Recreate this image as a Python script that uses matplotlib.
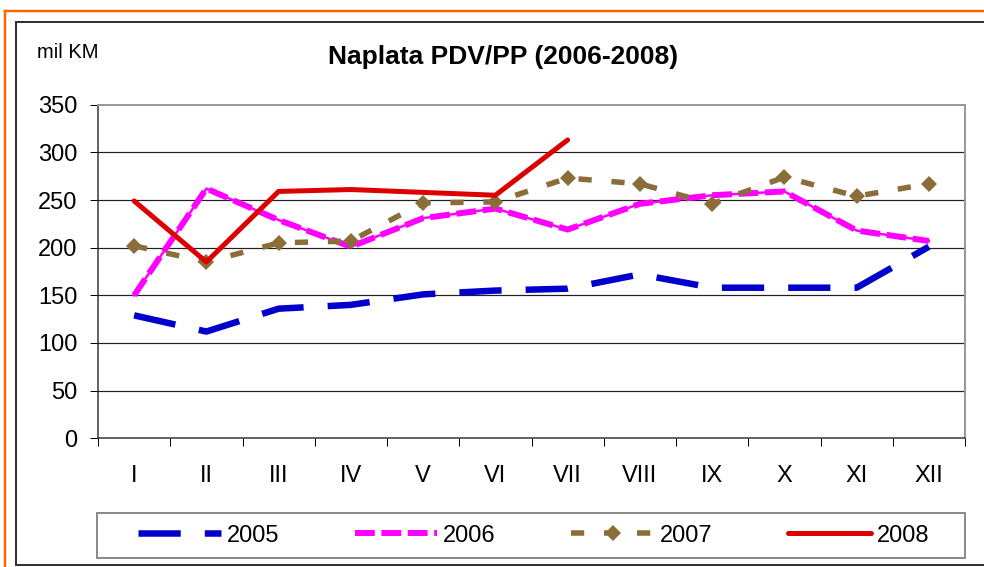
import matplotlib
matplotlib.use("Agg")
import matplotlib.pyplot as plt
from matplotlib.lines import Line2D
from matplotlib.patches import Rectangle

plt.rcParams["font.family"] = ["Liberation Sans", "DejaVu Sans"]

months = ["I", "II", "III", "IV", "V", "VI", "VII", "VIII", "IX", "X", "XI", "XII"]
y2005 = [129, 112, 136, 140, 151, 155, 157, 172, 158, 158, 158, 201]
y2006 = [150, 262, 229, 201, 231, 241, 219, 246, 255, 259, 218, 207]
y2007 = [202, 185, 205, 207, 247, 248, 273, 267, 246, 274, 254, 267]
y2008 = [249, 185, 259, 261, 258, 255, 313]
yticks = [0, 50, 100, 150, 200, 250, 300, 350]

W, H = 984, 567
PX = 72 / 100  # points per pixel

fig = plt.figure(figsize=(W / 100, H / 100), dpi=100, facecolor="white")


def fx(px):
    return px / W


def fy(py):
    return 1 - py / H


ax = fig.add_axes([fx(98), fy(438.3), fx(965) - fx(98), fy(104.7) - fy(438.3)])

x = list(range(len(months)))

l05, = ax.plot(x, y2005, color="#0000CC", lw=6.5 * PX, dashes=(6.5, 3.7),
               solid_capstyle="butt", dash_capstyle="butt", zorder=3)
ax.plot(x, y2006, color="#FF00FF", lw=2.5 * PX, zorder=3)
l06, = ax.plot(x, y2006, color="#FF00FF", lw=6 * PX, dashes=(3.3, 1.1),
               dash_capstyle="butt", zorder=3)
l07, = ax.plot(x, y2007, color="#8B6D3A", lw=5.5 * PX, dashes=(2.4, 3.6),
               dash_capstyle="butt", marker="D", markersize=8.5,
               markeredgewidth=0, zorder=4)
l08, = ax.plot(x[:len(y2008)], y2008, color="#DD0000", lw=5 * PX,
               solid_capstyle="round", zorder=5)

ax.set_xlim(-0.5, len(months) - 0.5)
ax.set_ylim(0, 350)
ax.set_yticks(yticks)
ax.tick_params(axis="y", labelsize=17, length=8 * PX, width=1 * PX,
               pad=9, colors="#000000")
ax.set_xticks([i - 0.5 for i in range(len(months) + 1)])
ax.set_xticklabels([])
ax.set_xticks(x, minor=True)
ax.set_xticklabels(months, minor=True)
ax.tick_params(axis="x", which="major", length=8 * PX, width=1 * PX,
               direction="out")
ax.tick_params(axis="x", which="minor", length=0, labelsize=17, pad=19)

for v in yticks[1:-1]:
    ax.axhline(v, color="#202020", lw=1.2 * PX, zorder=1)
for side in ["top", "right"]:
    ax.spines[side].set_color("#999999")
    ax.spines[side].set_linewidth(2 * PX)
for side in ["left", "bottom"]:
    ax.spines[side].set_color("#333333")
    ax.spines[side].set_linewidth(1.5 * PX)

fig.text(fx(503), fy(57), "Naplata PDV/PP (2006-2008)", ha="center",
         va="center", fontsize=19, fontweight="bold")
fig.text(fx(37), fy(53), "mil KM", ha="left", va="center", fontsize=14.5)

# legend
fig.add_artist(Rectangle((fx(97), fy(558)), fx(965) - fx(97), fy(513) - fy(558),
                         transform=fig.transFigure, fill=False,
                         edgecolor="#808080", lw=1.8 * PX))
fig.legend([l05, l06, l07, l08], ["2005", "2006", "2007", "2008"],
           loc="center left", bbox_to_anchor=(fx(138), fy(535.5)),
           ncol=4, frameon=False, fontsize=17, handlelength=3.5,
           handletextpad=0.25, columnspacing=3.2, borderpad=0,
           borderaxespad=0, numpoints=1)

# outer frames
fig.add_artist(Line2D([fx(5), 1], [fy(11), fy(11)], color="#FF6600",
                      lw=2.5 * PX, transform=fig.transFigure))
fig.add_artist(Line2D([fx(5), fx(5)], [fy(11), 0], color="#FF6600",
                      lw=2.5 * PX, transform=fig.transFigure))
fig.add_artist(Line2D([fx(16), 1], [fy(22), fy(22)], color="#333333",
                      lw=2 * PX, transform=fig.transFigure))
fig.add_artist(Line2D([fx(16), fx(16)], [fy(22), fy(565)], color="#333333",
                      lw=2 * PX, transform=fig.transFigure))
fig.add_artist(Line2D([fx(16), 1], [fy(565), fy(565)], color="#333333",
                      lw=2 * PX, transform=fig.transFigure))

fig.savefig("out.png", dpi=100, facecolor="white")
